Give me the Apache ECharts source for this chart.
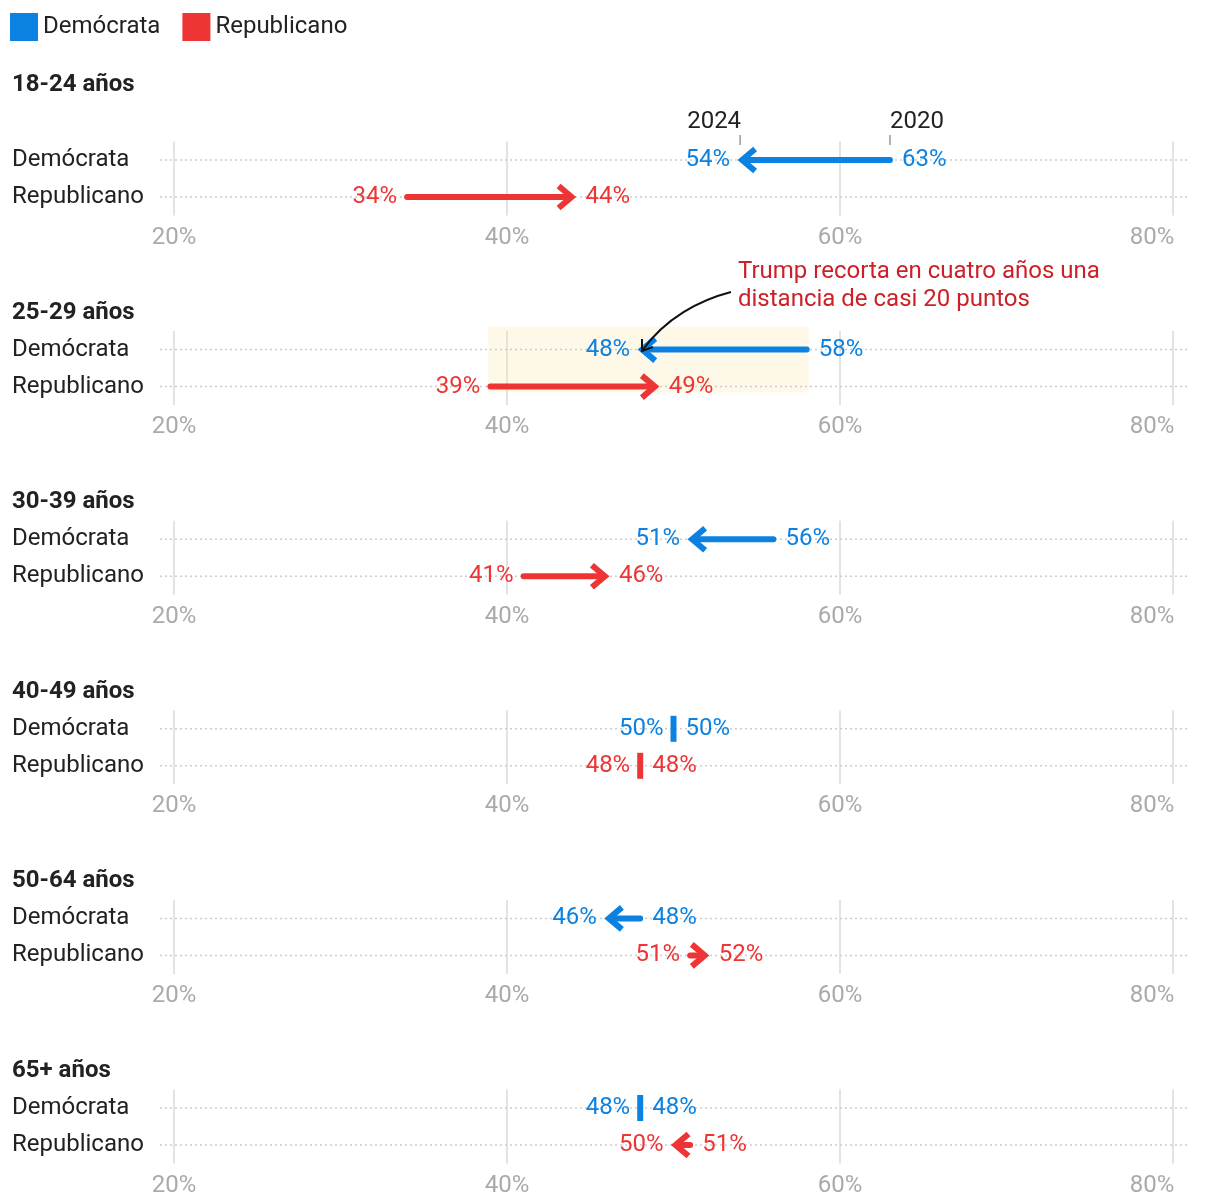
<!DOCTYPE html>
<html><head><meta charset="utf-8">
<script src="https://cdn.jsdelivr.net/npm/echarts@6/dist/echarts.min.js"></script>
<style>html,body{margin:0;padding:0;background:#fff}#c{width:1220px;height:1204px}</style>
</head><body><div id="c"></div>
<script>
// ---- data ----
const groups = ['18-24 años','25-29 años','30-39 años','40-49 años','50-64 años','65+ años'];
const rows = ['Demócrata','Republicano'];
const years = ['2020','2024'];
const dem2020 = [63,58,56,50,48,48];
const dem2024 = [54,48,51,50,46,48];
const rep2020 = [34,39,41,48,51,51];
const rep2024 = [44,49,46,48,52,50];
const xTicks = [20,40,60,80];
const highlightGroup = 1;
const annotation = 'Trump recorta en cuatro años una\ndistancia de casi 20 puntos';

// ---- style ----
const FONT = 'Roboto, "Noto Sans", sans-serif';
const FS = 24;
const BLUE = '#0b82e2', RED = '#ee3536', DARK = '#222222', GREY = '#aaaaaa';
const ROW0 = 160, STEP = 189.6, BAND = 37;

const chart = echarts.init(document.getElementById('c'));

function txt(s, x, y, align, fill) {
  return {type:'text', style:{text:s, x:x, y:y, align:align, verticalAlign:'middle', fill:fill, font:FS + 'px ' + FONT}};
}

function makeArrow(color, rowIdx, withYears) {
  return function (params, api) {
    const v0 = api.value(0), v1 = api.value(1);
    const a = api.coord([v0, rowIdx]), b = api.coord([v1, rowIdx]);
    const y = a[1];
    const cs = params.coordSys;
    const kids = [];
    // dotted row guide across the plot
    kids.push({type:'line', shape:{x1:cs.x, y1:y, x2:cs.x + cs.width, y2:y},
      style:{stroke:'#cccccc', lineWidth:1.5, lineDash:[2,3]}});
    if (v0 === v1) {
      kids.push({type:'rect', shape:{x:a[0]-3, y:y-13, width:6, height:26}, style:{fill:color}});
      kids.push(txt(v1 + '%', a[0]-10, y, 'right', color));
      kids.push(txt(v0 + '%', a[0]+12, y, 'left', color));
    } else {
      const d = Math.sign(v1 - v0);
      const tip = b[0] - d*2;
      kids.push({type:'line', shape:{x1:a[0], y1:y, x2:tip - d*5, y2:y},
        style:{stroke:color, lineWidth:6, lineCap:'round'}});
      kids.push({type:'polyline', shape:{points:[[tip - d*13, y-11],[tip, y],[tip - d*13, y+11]]},
        style:{stroke:color, lineWidth:6, fill:null, lineJoin:'miter', lineCap:'butt'}});
      kids.push(txt(v1 + '%', b[0] + (d > 0 ? 12 : -10), y, d > 0 ? 'left' : 'right', color));
      kids.push(txt(v0 + '%', a[0] + (d > 0 ? -10 : 12), y, d > 0 ? 'right' : 'left', color));
      if (withYears) {
        kids.push(txt(years[1], b[0] + 1, y - 38, 'right', DARK));
        kids.push(txt(years[0], a[0], y - 38, 'left', DARK));
        kids.push({type:'line', shape:{x1:b[0], y1:y-25, x2:b[0], y2:y-15}, style:{stroke:'#999', lineWidth:1.5}});
        kids.push({type:'line', shape:{x1:a[0], y1:y-25, x2:a[0], y2:y-15}, style:{stroke:'#999', lineWidth:1.5}});
      }
    }
    return {type:'group', children:kids};
  };
}

const grids = [], xAxes = [], yAxes = [], titles = [], series = [];
const lastTick = xTicks[xTicks.length - 1];

groups.forEach((g, i) => {
  const r1 = ROW0 + STEP*i;
  grids.push({left:160, right:33, top:r1 - BAND/2, height:BAND*2});
  xAxes.push({
    gridIndex:i, type:'value', min:19.16, max:80.84, splitNumber:3, minInterval:20, maxInterval:20,
    axisLine:{show:false}, axisTick:{show:false},
    axisLabel:{color:GREY, fontSize:FS, fontFamily:FONT, margin:10,
      formatter: v => {
        const r = Math.round(v*100)/100;
        if (!xTicks.includes(r)) return '';
        return r === lastTick ? '{r|' + r + '%}' : r + '%';
      },
      rich:{r:{color:GREY, fontSize:FS, fontFamily:FONT, padding:[0,42,0,0]}}
    },
    splitLine:{show:true, showMinLine:false, showMaxLine:false, lineStyle:{color:'#e3e3e3', width:2}}
  });
  yAxes.push({
    gridIndex:i, type:'category', data:rows, inverse:true,
    axisLine:{show:false}, axisTick:{show:false}, splitLine:{show:false},
    axisLabel:{align:'left', margin:148, color:DARK, fontSize:FS, fontFamily:FONT}
  });
  titles.push({text:g, left:12, top:(i === 0 ? 73 : r1 - 49), padding:0,
    textStyle:{fontSize:FS, fontWeight:'bold', color:DARK, fontFamily:FONT}});
  series.push({
    type:'custom', name:rows[0], xAxisIndex:i, yAxisIndex:i, itemStyle:{color:BLUE}, z:10, silent:true,
    data:[[dem2020[i], dem2024[i], 0]], encode:{x:[0,1], y:2},
    renderItem: makeArrow(BLUE, 0, i === 0)
  });
  series.push({
    type:'custom', name:rows[1], xAxisIndex:i, yAxisIndex:i, itemStyle:{color:RED}, z:10, silent:true,
    data:[[rep2020[i], rep2024[i], 1]], encode:{x:[0,1], y:2},
    renderItem: makeArrow(RED, 1, false)
  });
});

// highlight box spanning all values of the highlighted group
const hv = [dem2020, dem2024, rep2020, rep2024].map(s => s[highlightGroup]);
series.push({
  type:'custom', name:'highlight', xAxisIndex:highlightGroup, yAxisIndex:highlightGroup, z:1, silent:true,
  data:[[Math.min(...hv), Math.max(...hv), 0]], encode:{x:[0,1], y:2},
  renderItem: function (params, api) {
    const a = api.coord([api.value(0), 0]), b = api.coord([api.value(1), 1]);
    return {type:'rect', shape:{x:a[0]-2, y:a[1]-23, width:b[0]-a[0]+4, height:b[1]-a[1]+29},
      style:{fill:'rgba(250,225,160,0.24)'}};
  }
});

chart.setOption({
  animation:false,
  backgroundColor:'#ffffff',
  textStyle:{fontFamily:FONT},
  title:titles,
  legend:{data:rows, left:10, top:13, padding:0, icon:'rect', itemWidth:28, itemHeight:28, itemGap:22,
    selectedMode:false, textStyle:{fontSize:FS, color:DARK, fontFamily:FONT}},
  grid:grids, xAxis:xAxes, yAxis:yAxes, series:series,
  graphic:[
    {type:'text', left:738, top:258, style:{text:annotation, font:FS + 'px ' + FONT, fill:'#cc1f27', lineHeight:28}},
    {type:'bezierCurve', z:20, shape:{x1:731, y1:292, cpx1:700, cpy1:300, cpx2:665, cpy2:318, x2:642, y2:351},
      style:{stroke:'#111', lineWidth:2, fill:null}},
    {type:'polyline', z:20, shape:{points:[[642,339],[642,351],[653,347]]},
      style:{stroke:'#111', lineWidth:2, fill:null}}
  ]
});
</script></body></html>
